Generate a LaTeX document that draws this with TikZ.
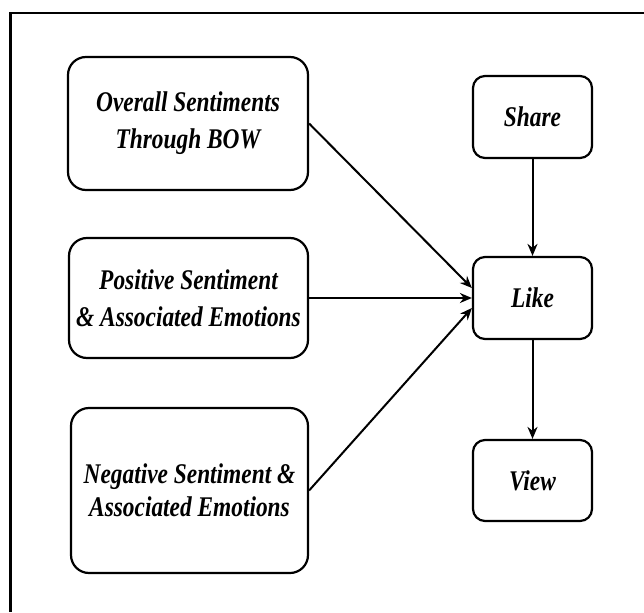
\documentclass[tikz,border=0pt]{standalone}
\usepackage{fontspec}
\setmainfont{Liberation Serif}[FakeStretch=0.82]
\usetikzlibrary{arrows.meta}
\begin{document}
\begin{tikzpicture}[x=1pt,y=-1pt,
  box/.style={draw=black,line width=2.2pt,rounded corners=#1,align=center,
    inner sep=0pt,font=\bfseries\itshape\fontsize{28.5}{37}\selectfont},
  box/.default=18pt,
  conn/.style={line width=2pt,-{Stealth[length=12pt,width=10pt]}}]
\useasboundingbox (0,0) rectangle (644,612);
\draw[line width=2.5pt] (644,13) -- (10.5,13) -- (10.5,612);
\node[box, minimum width=240pt, minimum height=133pt] (bow) at (188,123.5)
  {Overall Sentiments\\Through BOW};
\node[box, minimum width=239pt, minimum height=120pt] (pos) at (188.5,298)
  {Positive Sentiment\\\& Associated Emotions};
\node[box, minimum width=237pt, minimum height=165pt,
  font=\bfseries\itshape\fontsize{28.5}{33}\selectfont] (neg) at (189.5,490.5)
  {Negative Sentiment \&\\Associated Emotions};
\node[box=12pt, minimum width=119pt, minimum height=82pt] (share) at (532.5,117) {Share};
\node[box=12pt, minimum width=119pt, minimum height=82pt] (like) at (532.5,298) {Like};
\node[box=12pt, minimum width=119pt, minimum height=81pt] (view) at (532.5,480.5) {View};
\draw[conn] (bow.east) -- ([yshift=10pt]like.west);
\draw[conn] (pos.east) -- (like.west);
\draw[conn] (neg.east) -- ([yshift=-10pt]like.west);
\draw[conn] (share.south) -- (like.north);
\draw[conn] (like.south) -- (view.north);
\end{tikzpicture}
\end{document}
